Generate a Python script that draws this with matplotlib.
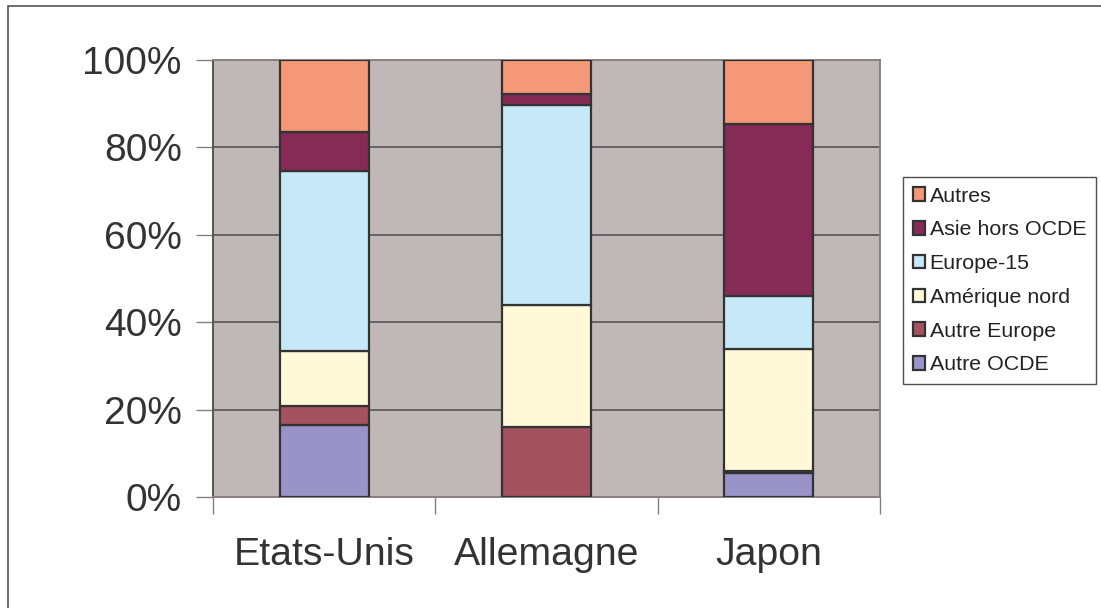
#!/usr/bin/env python3
"""Stacked 100% bars: breakdown by destination region for three countries."""

import matplotlib

matplotlib.use("Agg")
import matplotlib.pyplot as plt
from matplotlib.patches import Rectangle
import numpy as np

plt.rcParams["font.family"] = ["Liberation Sans", "DejaVu Sans"]

COUNTRIES = ["Etats-Unis", "Allemagne", "Japon"]

# shares in percent, bottom to top
AUTRE_OCDE = [16.4, 0.0, 5.4]
AUTRE_EUROPE = [4.5, 16.1, 0.6]
AMERIQUE_NORD = [12.5, 27.9, 27.9]
EUROPE_15 = [41.3, 45.8, 12.2]
ASIE_HORS_OCDE = [8.8, 2.5, 39.2]
AUTRES = [16.5, 7.7, 14.7]

SERIES = [
    ("Autre OCDE", AUTRE_OCDE, "#9A93C7"),
    ("Autre Europe", AUTRE_EUROPE, "#A5525F"),
    ("Amérique nord", AMERIQUE_NORD, "#FFF9D9"),
    ("Europe-15", EUROPE_15, "#C6E8F7"),
    ("Asie hors OCDE", ASIE_HORS_OCDE, "#852B56"),
    ("Autres", AUTRES, "#F49877"),
]

W, H = 1101, 608
fig = plt.figure(figsize=(W / 100, H / 100), dpi=100)

# outer frame
fig.patches.append(Rectangle((8 / W, -0.1), 1.2, (H - 6) / H + 0.1,
                             transform=fig.transFigure, fill=False,
                             edgecolor="#555555", linewidth=1.2))

ax = fig.add_axes([213 / W, (H - 497) / H, 667 / W, 437 / H])
ax.set_facecolor("#C0B8B6")

x = np.arange(len(COUNTRIES))
bottom = np.zeros(len(COUNTRIES))
handles = []
for label, values, color in SERIES:
    bars = ax.bar(x, values, width=0.4, bottom=bottom, color=color,
                  edgecolor="#333333", linewidth=1.6, label=label, zorder=3)
    handles.append(bars)
    bottom += np.array(values)

ax.set_xlim(-0.5, 2.5)
ax.set_ylim(0, 100)
ax.set_yticks([0, 20, 40, 60, 80, 100])
ax.set_yticklabels([f"{v}%" for v in [0, 20, 40, 60, 80, 100]])
ax.yaxis.grid(True, color="#555555", linewidth=1.2, zorder=1)
ax.set_axisbelow(True)

# category ticks sit between bars, labels at bar centres
ax.set_xticks([-0.5, 0.5, 1.5, 2.5])
ax.set_xticklabels([])
ax.set_xticks(x, minor=True)
ax.set_xticklabels(COUNTRIES, minor=True)
ax.tick_params(axis="x", which="major", length=12, width=1, color="#808080")
ax.tick_params(axis="x", which="minor", length=0, pad=29, labelsize=28.3,
               labelcolor="#333333")
ax.tick_params(axis="y", length=12, width=1, color="#808080", pad=10.5,
               labelsize=28, labelcolor="#333333")

for side in ["top", "right", "bottom"]:
    ax.spines[side].set_color("#8A807D")
    ax.spines[side].set_linewidth(1.4)
ax.spines["left"].set_color("#555555")
ax.spines["left"].set_linewidth(1.4)

leg = fig.legend(handles[::-1], [s[0] for s in SERIES][::-1],
                 loc="upper left", bbox_to_anchor=(903 / W, 1 - 177 / H),
                 fontsize=15.4, frameon=True, fancybox=False, borderpad=0.45,
                 handlelength=0.6, handleheight=0.6, handletextpad=0.2,
                 labelspacing=0.69, borderaxespad=0, labelcolor="#222222")
leg.get_frame().set_edgecolor("#222222")
leg.get_frame().set_linewidth(1.0)

fig.savefig("out.png", dpi=100)
